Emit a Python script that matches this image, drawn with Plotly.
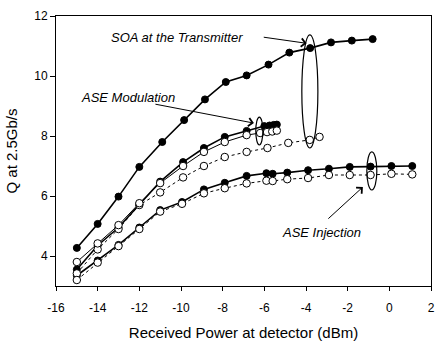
import plotly.graph_objects as go

# ---- data ----
soa_x = [-15, -14, -13, -12, -10.9, -9.85, -8.85, -7.85, -6.85, -5.8, -4.8, -3.8, -2.8, -1.8, -0.8]
soa_q = [4.27, 5.07, 5.98, 6.97, 7.8, 8.53, 9.22, 9.8, 10.02, 10.38, 10.78, 10.93, 11.12, 11.18, 11.23]

mod_filled_x = [-15, -14, -13, -12, -11, -9.9, -8.9, -7.9, -6.85, -6.0, -5.75, -5.55, -5.4]
mod_filled_q = [3.55, 4.35, 4.95, 5.72, 6.48, 7.13, 7.6, 7.97, 8.17, 8.33, 8.35, 8.37, 8.38]
mod_open_x = [-15, -14, -13, -12, -11, -9.9, -8.9, -7.9, -6.85, -6.2, -5.87, -5.62, -5.4]
mod_open_q = [3.8, 4.42, 5.03, 5.76, 6.43, 7.0, 7.47, 7.8, 8.03, 8.1, 8.13, 8.15, 8.18]

base_x = [-15, -14, -13, -12, -11, -9.9, -8.9, -7.9, -6.85, -5.85, -4.85, -3.82, -3.35]
base_q = [3.42, 4.22, 4.9, 5.7, 6.12, 6.62, 7.0, 7.3, 7.47, 7.6, 7.77, 7.87, 7.97]

inj_x = [-15, -14, -13, -12, -11, -9.95, -8.9, -7.9, -6.85, -5.9, -5.6, -4.9, -3.9, -2.9, -1.9, -0.9, 0.1, 1.1]
inj_filled_q = [3.35, 3.85, 4.37, 4.95, 5.53, 5.8, 6.22, 6.44, 6.67, 6.76, 6.74, 6.78, 6.86, 6.91, 6.97, 6.98, 7.0, 7.0]
inj_open_q = [3.2, 3.78, 4.33, 4.9, 5.48, 5.74, 6.09, 6.26, 6.42, 6.51, 6.5, 6.56, 6.6, 6.7, 6.7, 6.7, 6.74, 6.72]

x_ticks = [-16, -14, -12, -10, -8, -6, -4, -2, 0, 2]
y_ticks = [4, 6, 8, 10, 12]

FONT = "Liberation Sans, Arial, sans-serif"

fig = go.Figure()


def filled(x, y):
    fig.add_trace(go.Scatter(
        x=x, y=y, mode="lines+markers",
        line=dict(color="black", width=1.6),
        marker=dict(symbol="circle", size=7, color="black", line=dict(color="black", width=1)),
        showlegend=False, hoverinfo="skip"))


def opened(x, y, dash="solid"):
    fig.add_trace(go.Scatter(
        x=x, y=y, mode="lines+markers",
        line=dict(color="black", width=1, dash=dash),
        marker=dict(symbol="circle", size=7.5, color="white", line=dict(color="black", width=1)),
        showlegend=False, hoverinfo="skip"))


filled(soa_x, soa_q)
filled(mod_filled_x, mod_filled_q)
filled(inj_x, inj_filled_q)
opened(base_x, base_q, "dot")
opened(mod_open_x, mod_open_q)
opened(inj_x, inj_open_q, "dot")

# ellipses
for x0, x1, y0, y1 in [(-4.2, -3.43, 7.6, 11.37), (-6.41, -6.07, 7.7, 8.63), (-1.08, -0.6, 6.2, 7.47)]:
    fig.add_shape(type="circle", xref="x", yref="y", x0=x0, x1=x1, y0=y0, y1=y1,
                  line=dict(color="black", width=1.2), fillcolor="rgba(0,0,0,0)")

# labels
for txt, x, y in [("SOA at the Transmitter", -10.2, 11.3),
                  ("ASE Modulation", -12.55, 9.3),
                  ("ASE Injection", -3.25, 4.8)]:
    fig.add_annotation(x=x, y=y, xref="x", yref="y", text=f"<i>{txt}</i>", showarrow=False,
                       font=dict(family=FONT, size=13, color="black"))

# arrows
for (hx, hy, tx, ty) in [(-3.97, 11.09, -6.1, 11.3), (-6.5, 8.43, -11.3, 9.07), (-1.27, 6.3, -3.0, 5.2)]:
    fig.add_annotation(x=hx, y=hy, ax=tx, ay=ty, xref="x", yref="y", axref="x", ayref="y",
                       text="", showarrow=True, arrowhead=4, arrowsize=1.6, arrowwidth=1,
                       arrowcolor="black", standoff=0)

fig.update_layout(
    width=435, height=343,
    margin=dict(l=56, r=4, t=16, b=57),
    paper_bgcolor="white", plot_bgcolor="white",
    font=dict(family=FONT, size=12, color="black"),
    xaxis=dict(range=[-16, 2], tickvals=x_ticks, ticktext=[str(v) for v in x_ticks],
               automargin=False,
               showgrid=False, zeroline=False, showline=True, linecolor="black", linewidth=1,
               mirror=True, ticks="outside", ticklen=4, tickcolor="black",
               tickfont=dict(size=12), ticklabelstandoff=7,
               title=dict(text="Received Power at detector (dBm)", font=dict(size=15), standoff=13)),
    yaxis=dict(range=[3, 12], tickvals=y_ticks, ticktext=[str(v) for v in y_ticks],
               automargin=False,
               showgrid=False, zeroline=False, showline=True, linecolor="black", linewidth=1,
               mirror=True, ticks="outside", ticklen=5, tickcolor="black",
               tickfont=dict(size=12),
               title=dict(text="Q at 2.5Gb/s", font=dict(size=15), standoff=12)),
)

fig.write_html("out.html", config={"displayModeBar": False},
               post_script="document.body.style.margin='0';document.body.style.overflow='hidden';")
